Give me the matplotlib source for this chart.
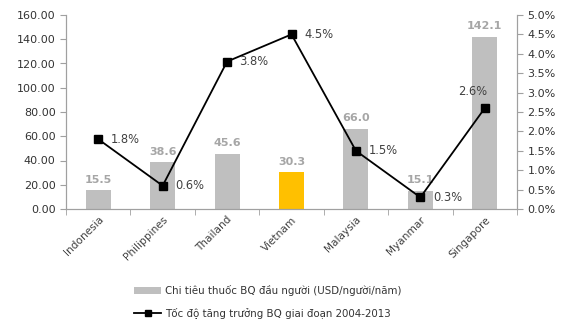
import matplotlib
matplotlib.use("Agg")
import matplotlib.pyplot as plt
from matplotlib.patches import Patch
from matplotlib.lines import Line2D
import numpy as np

countries = ["Indonesia", "Philippines", "Thailand", "Vietnam", "Malaysia", "Myanmar", "Singapore"]
spending = [15.5, 38.6, 45.6, 30.3, 66.0, 15.1, 142.1]
growth = [1.8, 0.6, 3.8, 4.5, 1.5, 0.3, 2.6]
left_ticks = [0, 20, 40, 60, 80, 100, 120, 140, 160]
right_ticks = [0.0, 0.5, 1.0, 1.5, 2.0, 2.5, 3.0, 3.5, 4.0, 4.5, 5.0]
bar_label = "Chi tiêu thuốc BQ đầu người (USD/người/năm)"
line_label = "Tốc độ tăng trưởng BQ giai đoạn 2004-2013"

plt.rcParams['font.family'] = ['DejaVu Sans']
fig = plt.figure(figsize=(5.68, 3.24), dpi=100)
ax = fig.add_axes([66/568, 1-209/324, (517-66)/568, (209-15)/324])
ax2 = ax.twinx()

x = np.arange(len(countries))
colors = ["#BFBFBF"] * len(countries)
colors[3] = "#FFC000"
ax.bar(x, spending, width=0.39, color=colors, zorder=2)
for xi, v in zip(x, spending):
    ax.annotate(f"{v:.1f}", (xi, v), xytext=(0, 4), textcoords="offset points",
                ha="center", va="bottom", fontsize=8, color="#A6A6A6", fontweight="bold")

ax.set_xlim(-0.5, len(countries) - 0.5)
ax.set_ylim(0, 160)
ax.set_yticks(left_ticks)
ax.set_yticklabels([f"{t:.2f}" for t in left_ticks])
ax.set_xticks(x)
ax.set_xticklabels(countries, rotation=45, ha="right", rotation_mode="anchor", fontsize=7.6, color="#404040")
ax.set_xticks(np.arange(-0.5, len(countries)), minor=True)
ax.tick_params(axis="x", which="major", length=0, pad=4)
ax.tick_params(axis="x", which="minor", length=4, color="#A0A0A0")
ax.tick_params(axis="y", labelsize=8, color="#A0A0A0", labelcolor="#333333", length=4)

ax2.plot(x, growth, color="black", lw=1.3, marker="s", ms=6, zorder=3)
ax2.set_ylim(0, 5.0)
ax2.set_yticks(right_ticks)
ax2.set_yticklabels([f"{t:.1f}%" for t in right_ticks])
ax2.tick_params(axis="y", labelsize=8, color="#A0A0A0", labelcolor="#333333", length=4)
for i, (xi, v) in enumerate(zip(x, growth)):
    if countries[i] == "Singapore":
        ax2.annotate(f"{v:.1f}%", (xi, v), xytext=(-9, 7), textcoords="offset points",
                     ha="center", va="bottom", fontsize=8.3, color="#404040")
    else:
        ax2.annotate(f"{v:.1f}%", (xi, v), xytext=(9, 0), textcoords="offset points",
                     ha="left", va="center", fontsize=8.3, color="#404040")

for a in (ax, ax2):
    a.spines["top"].set_visible(False)
    for s in ("left", "right", "bottom"):
        a.spines[s].set_color("#A0A0A0")
        a.spines[s].set_linewidth(0.8)

handles = [Patch(facecolor="#BFBFBF", edgecolor="none"),
           Line2D([0], [0], color="black", lw=1.3, marker="s", ms=5)]
fig.legend(handles, [bar_label, line_label], loc="center", bbox_to_anchor=(268/568, 1-302/324),
           ncol=1, frameon=False, fontsize=7.4, handlelength=2.6, handletextpad=0.4,
           labelspacing=1.1, labelcolor="#333333")

fig.savefig("out.png", dpi=100)
